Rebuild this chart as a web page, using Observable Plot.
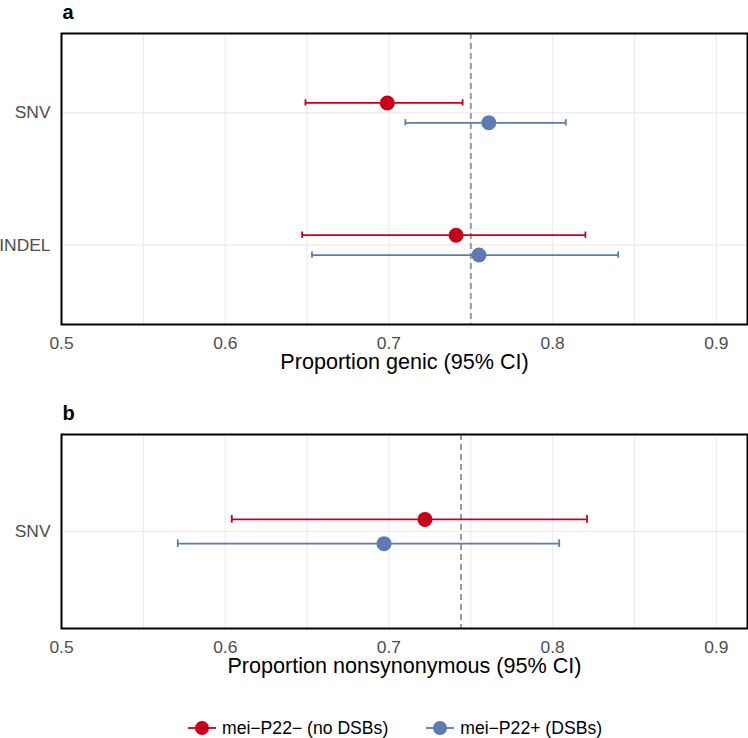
<!DOCTYPE html>
<html>
<head>
<meta charset="utf-8">
<script src="https://cdn.jsdelivr.net/npm/d3@7"></script>
<script src="https://cdn.jsdelivr.net/npm/@observablehq/plot@0.6"></script>
<style>
  html, body { margin: 0; padding: 0; background: #fff; }
  #wrap { position: relative; width: 748px; height: 738px; overflow: hidden; font-family: "Liberation Sans", Arial, Helvetica, sans-serif; }
  #wrap svg { display: block; }
  #panelA { position: absolute; left: 0; top: 0; }
  #panelB { position: absolute; left: 0; top: 380px; }
  #legend { position: absolute; left: 186px; top: 717px; height: 22px; display: flex; align-items: center; font-size: 17.6px; line-height: 20px; color: #000; white-space: nowrap; }
  .item { display: flex; align-items: center; }
  .item svg { margin-right: 2px; }
  .item + .item { margin-left: 36px; }
</style>
</head>
<body>
<div id="wrap">
  <div id="panelA"></div>
  <div id="panelB"></div>
  <div id="legend"></div>
</div>
<script>
// Groups (legend order) and their colours
const groups = ["mei\u2212P22\u2212 (no DSBs)", "mei\u2212P22+ (DSBs)"];
const groupColors = ["#C8001A", "#5B7BB1"];

// x-axis tick labels shared by both panels
const xTicks = [0.5, 0.6, 0.7, 0.8, 0.9];

// Panel a: proportion genic, per mutation type and group
const genicCategories = ["SNV", "INDEL"];
const genicCategory = ["SNV", "SNV", "INDEL", "INDEL"];
const genicGroup = [0, 1, 0, 1];
const genicEstimate = [0.699, 0.761, 0.741, 0.755];
const genicLower = [0.649, 0.710, 0.647, 0.653];
const genicUpper = [0.745, 0.808, 0.820, 0.840];
const genicExpected = 0.750;

// Panel b: proportion nonsynonymous (SNVs only)
const nonsynCategories = ["SNV"];
const nonsynCategory = ["SNV", "SNV"];
const nonsynGroup = [0, 1];
const nonsynEstimate = [0.722, 0.697];
const nonsynLower = [0.604, 0.571];
const nonsynUpper = [0.821, 0.804];
const nonsynExpected = 0.744;

const FONT = '"Liberation Sans", Arial, Helvetica, sans-serif';
const DODGE = 0.075;   // vertical offset of each group around its category
const CAP = 0.024;     // half height of the error-bar caps

function rowsFor(categories, category, group, est, lo, hi) {
  return est.map((e, i) => ({
    category: category[i],
    group: groups[group[i]],
    y: categories.indexOf(category[i]) + 1 + (group[i] === 0 ? -DODGE : DODGE),
    est: e,
    lo: lo[i],
    hi: hi[i]
  }));
}

function panel({categories, rows, expected, tag, title, height, marginTop, marginBottom}) {
  const catIdx = categories.map((_, i) => i + 1);
  const grid = d3.range(10, 19).map(i => i / 20);
  return Plot.plot({
    width: 748,
    height,
    marginLeft: 61,
    marginRight: 1,
    marginTop,
    marginBottom,
    style: {fontFamily: FONT, fontSize: "17.4px", color: "#4d4d4d", background: "#fff", overflow: "visible"},
    x: {domain: [0.5, 0.919]},
    y: {domain: [0.4, categories.length + 0.6], reverse: true},
    color: {domain: groups, range: groupColors},
    marks: [
      Plot.ruleX(grid, {stroke: "#EBEBEB", strokeWidth: 1.1}),
      Plot.ruleY(catIdx, {stroke: "#EBEBEB", strokeWidth: 1.1}),
      Plot.ruleX([expected], {stroke: "#9a9a9a", strokeWidth: 2, strokeDasharray: "6,4"}),
      Plot.ruleY(rows, {y: "y", x1: "lo", x2: "hi", stroke: "group", strokeWidth: 1.8}),
      Plot.ruleX(rows, {x: "lo", y1: d => d.y - CAP, y2: d => d.y + CAP, stroke: "group", strokeWidth: 1.8}),
      Plot.ruleX(rows, {x: "hi", y1: d => d.y - CAP, y2: d => d.y + CAP, stroke: "group", strokeWidth: 1.8}),
      Plot.dot(rows, {x: "est", y: "y", fill: "group", r: 7.5}),
      Plot.frame({stroke: "#000", strokeWidth: 2}),
      Plot.axisX(xTicks, {tickSize: 0, tickPadding: 12, tickFormat: d3.format(".1f"), label: null, fontSize: 17.4}),
      Plot.axisY(catIdx, {tickSize: 0, tickPadding: 11, tickFormat: i => categories[i - 1], label: null, fontSize: 17.4}),
      Plot.text([tag], {frameAnchor: "top-left", textAnchor: "start", lineAnchor: "bottom", dx: 1, dy: -15, fontSize: 20, fontWeight: "bold", fill: "#000"}),
      Plot.text([title], {frameAnchor: "bottom", lineAnchor: "bottom", dy: 44, fontSize: 21.6, fill: "#000"})
    ]
  });
}

const genicRows = rowsFor(genicCategories, genicCategory, genicGroup, genicEstimate, genicLower, genicUpper);
const nonsynRows = rowsFor(nonsynCategories, nonsynCategory, nonsynGroup, nonsynEstimate, nonsynLower, nonsynUpper);

document.getElementById("panelA").append(panel({
  categories: genicCategories, rows: genicRows, expected: genicExpected,
  tag: "a", title: "Proportion genic (95% CI)",
  height: 380, marginTop: 33, marginBottom: 56
}));

document.getElementById("panelB").append(panel({
  categories: nonsynCategories, rows: nonsynRows, expected: nonsynExpected,
  tag: "b", title: "Proportion nonsynonymous (95% CI)",
  height: 312, marginTop: 54, marginBottom: 64
}));

// Legend: a line with a dot for each group, followed by its name
const legend = d3.select("#legend");
groups.forEach((g, i) => {
  const item = legend.append("div").attr("class", "item");
  const svg = item.append("svg").attr("width", 34).attr("height", 22);
  svg.append("line").attr("x1", 2).attr("x2", 30).attr("y1", 11).attr("y2", 11)
    .attr("stroke", groupColors[i]).attr("stroke-width", 1.8);
  svg.append("circle").attr("cx", 16).attr("cy", 11).attr("r", 7).attr("fill", groupColors[i]);
  item.append("span").text(g);
});
</script>
</body>
</html>
